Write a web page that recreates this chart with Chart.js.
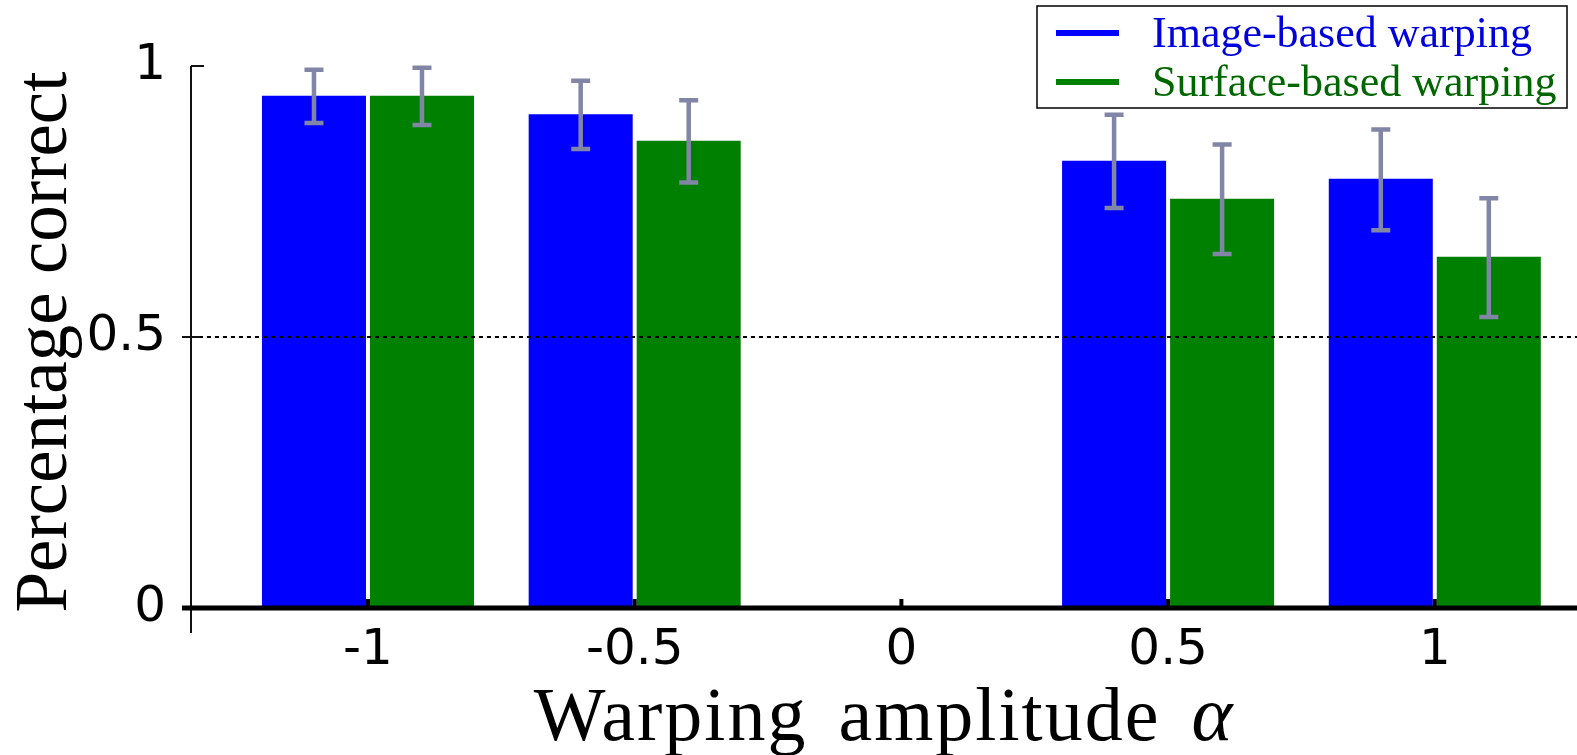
<!DOCTYPE html>
<html>
<head>
<meta charset="utf-8">
<title>Percentage correct vs warping amplitude</title>
<script src="https://cdn.jsdelivr.net/npm/chart.js@4.4.1/dist/chart.umd.min.js"></script>
<style>
  html, body { margin: 0; padding: 0; background: #fff; }
  canvas { display: block; }
</style>
</head>
<body>
<canvas id="warpChart" width="1577" height="755"></canvas>
<script>
// warping amplitudes that have bars (none at 0)
const amplitudes = [-1, -0.5, 0.5, 1];
// mean fraction correct
const imageMean = [0.945, 0.911, 0.825, 0.792];
const surfaceMean = [0.945, 0.862, 0.755, 0.648];
// error bar ends
const imageLow = [0.895, 0.847, 0.738, 0.697];
const imageHigh = [0.993, 0.973, 0.910, 0.883];
const surfaceLow = [0.891, 0.785, 0.653, 0.537];
const surfaceHigh = [0.997, 0.937, 0.855, 0.756];
// ticks
const xTicks = [-1, -0.5, 0, 0.5, 1];
const xTickLabels = ['-1', '-0.5', '0', '0.5', '1'];
const yTicks = [0, 0.5, 1];
const yTickLabels = ['0', '0.5', '1'];
const seriesNames = ['Image-based warping', 'Surface-based warping'];
const chanceLevel = 0.5;

const barColors = ['#0000ff', '#008000'];
const legendTextColors = ['#0000dd', '#006600'];
const errColor = '#8185a6';
const serif = '"Liberation Serif", "DejaVu Serif", serif';

const toPoints = vals => amplitudes.map((a, i) => ({ x: a, y: vals[i] }));
const errors = [[imageLow, imageHigh], [surfaceLow, surfaceHigh]];

// spines, chance line, zero line, ticks and error bars
const overlay = {
    id: 'overlay',
    afterDatasetsDraw(chart) {
        const { ctx, chartArea, scales: { x, y } } = chart;
        const y0 = y.getPixelForValue(0);
        const yc = y.getPixelForValue(chanceLevel);
        ctx.save();

        // dashed chance line
        ctx.strokeStyle = '#000';
        ctx.lineWidth = 2;
        ctx.setLineDash([4, 4]);
        ctx.beginPath();
        ctx.moveTo(chartArea.left, yc);
        ctx.lineTo(chartArea.right, yc);
        ctx.stroke();
        ctx.setLineDash([]);

        // left spine + y ticks
        ctx.strokeStyle = '#111';
        ctx.lineWidth = 2;
        ctx.beginPath();
        ctx.moveTo(chartArea.left, chartArea.top);
        ctx.lineTo(chartArea.left, y0 + 25);
        ctx.moveTo(chartArea.left, chartArea.top);
        ctx.lineTo(chartArea.left + 13, chartArea.top);
        ctx.moveTo(chartArea.left - 9, yc);
        ctx.lineTo(chartArea.left + 9, yc);
        ctx.stroke();

        // thick zero line
        ctx.strokeStyle = '#000';
        ctx.lineWidth = 5;
        ctx.beginPath();
        ctx.moveTo(chartArea.left - 9, y0);
        ctx.lineTo(chartArea.right, y0);
        ctx.stroke();

        // x ticks sitting on the zero line
        ctx.lineWidth = 4;
        ctx.beginPath();
        xTicks.forEach(v => {
            const px = x.getPixelForValue(v);
            ctx.moveTo(px, y0);
            ctx.lineTo(px, y0 - 9);
        });
        ctx.stroke();

        // error bars
        ctx.strokeStyle = errColor;
        ctx.lineWidth = 4.5;
        chart.data.datasets.forEach((ds, d) => {
            const [lo, hi] = errors[d];
            chart.getDatasetMeta(d).data.forEach((bar, i) => {
                const top = y.getPixelForValue(hi[i]);
                const bot = y.getPixelForValue(lo[i]);
                ctx.beginPath();
                ctx.moveTo(bar.x, top);
                ctx.lineTo(bar.x, bot);
                ctx.moveTo(bar.x - 9.5, top);
                ctx.lineTo(bar.x + 9.5, top);
                ctx.moveTo(bar.x - 9.5, bot);
                ctx.lineTo(bar.x + 9.5, bot);
                ctx.stroke();
            });
        });
        ctx.restore();
    },
    afterDraw(chart) {
        const { ctx } = chart;
        ctx.save();

        // axis titles
        ctx.fillStyle = '#000';
        ctx.textBaseline = 'alphabetic';
        ctx.font = '73px ' + serif;
        ctx.save();
        ctx.translate(66, 342);
        ctx.rotate(-Math.PI / 2);
        ctx.textAlign = 'center';
        ctx.fillText('Percentage correct', 0, 0);
        ctx.restore();

        const main = 'Warping amplitude ';
        ctx.textAlign = 'left';
        ctx.letterSpacing = '2px';
        ctx.wordSpacing = '10px';
        ctx.font = '76px ' + serif;
        const w1 = ctx.measureText(main).width;
        ctx.font = 'italic 78px ' + serif;
        const w2 = ctx.measureText('\u03b1').width;
        const start = 884 - (w1 + w2) / 2;
        ctx.font = '76px ' + serif;
        ctx.fillText(main, start, 740);
        ctx.font = 'italic 78px ' + serif;
        ctx.fillText('\u03b1', start + w1, 740);
        ctx.letterSpacing = '0px';
        ctx.wordSpacing = '0px';

        // legend box
        ctx.fillStyle = '#fff';
        ctx.fillRect(1037, 6, 530, 102);
        ctx.strokeStyle = '#000';
        ctx.lineWidth = 1.5;
        ctx.strokeRect(1037, 6, 530, 102);
        ctx.font = '42px ' + serif;
        const fit = 380 / ctx.measureText(seriesNames[0]).width;
        ctx.font = (42 * fit).toFixed(1) + 'px ' + serif;
        const rows = [[33, 47], [82, 96]];
        seriesNames.forEach((name, i) => {
            ctx.strokeStyle = barColors[i];
            ctx.lineWidth = 6;
            ctx.beginPath();
            ctx.moveTo(1056, rows[i][0]);
            ctx.lineTo(1119, rows[i][0]);
            ctx.stroke();
            ctx.fillStyle = legendTextColors[i];
            ctx.fillText(name, 1152, rows[i][1]);
        });
        ctx.restore();
    }
};

const config = {
    type: 'bar',
    data: {
        datasets: [{
            label: seriesNames[0],
            data: toPoints(imageMean),
            backgroundColor: barColors[0],
            borderWidth: 0,
            categoryPercentage: 0.81,
            barPercentage: 0.963
        }, {
            label: seriesNames[1],
            data: toPoints(surfaceMean),
            backgroundColor: barColors[1],
            borderWidth: 0,
            categoryPercentage: 0.81,
            barPercentage: 0.963
        }]
    },
    options: {
        responsive: false,
        animation: false,
        layout: { padding: { top: 66, left: 0, right: 0, bottom: 0 } },
        plugins: {
            legend: { display: false },
            tooltip: { enabled: false }
        },
        scales: {
            x: {
                type: 'linear',
                min: -1.3318,
                max: 1.2666,
                offset: false,
                grid: { display: false, drawTicks: false },
                border: { display: false },
                afterBuildTicks: axis => { axis.ticks = xTicks.map(v => ({ value: v })); },
                afterFit: axis => { axis.height = 147; },
                ticks: {
                    callback: (v, i) => xTickLabels[i],
                    font: { family: 'DejaVu Sans', size: 50 },
                    color: '#000',
                    padding: 13,
                    maxRotation: 0,
                    autoSkip: false
                }
            },
            y: {
                min: 0,
                max: 1,
                grid: { display: false, drawTicks: false },
                border: { display: false },
                afterBuildTicks: axis => { axis.ticks = yTicks.map(v => ({ value: v })); },
                afterFit: axis => { axis.width = 191; },
                ticks: {
                    callback: (v, i) => yTickLabels[i],
                    font: { family: 'DejaVu Sans', size: 50 },
                    color: '#000',
                    padding: 25
                }
            }
        }
    },
    plugins: [overlay]
};

const ctx = document.getElementById('warpChart').getContext('2d');
const warpChart = new Chart(ctx, config);
</script>
</body>
</html>
